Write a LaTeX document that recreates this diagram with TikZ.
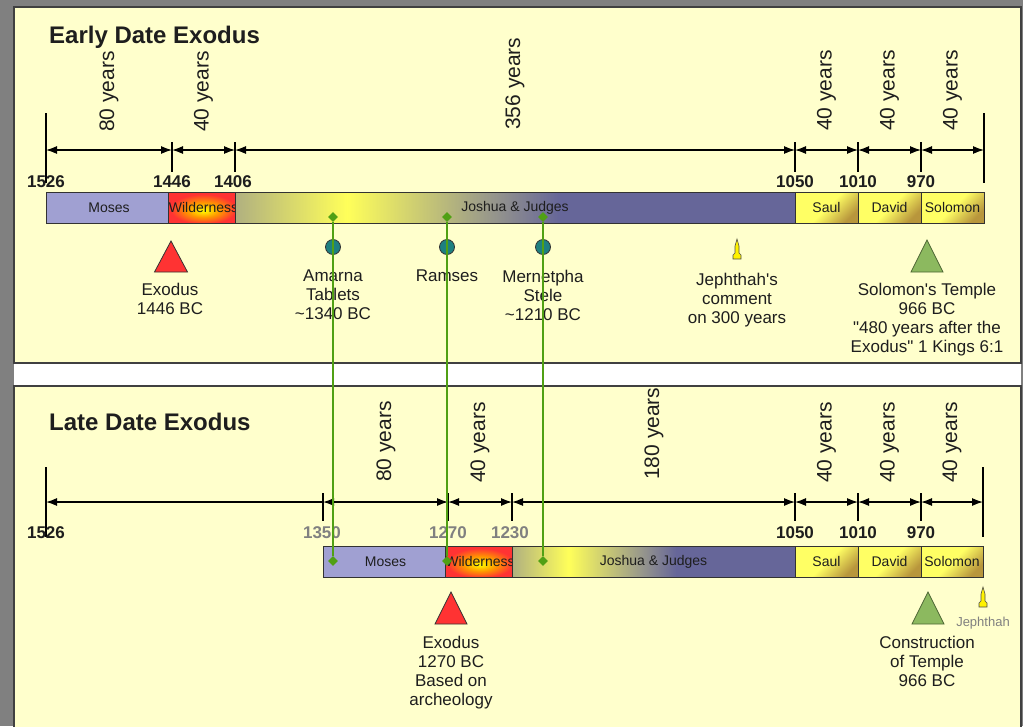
\documentclass[tikz,border=0pt]{standalone}
\usepackage{fontspec}
\setmainfont{Liberation Sans}[Ligatures=TeXOff]
\usetikzlibrary{arrows.meta,shapes.geometric}

\definecolor{bggray}{RGB}{128,128,128}
\definecolor{paper}{RGB}{255,255,204}
\definecolor{ink}{RGB}{30,30,30}
\definecolor{yeargray}{RGB}{128,128,128}
\definecolor{barline}{RGB}{50,50,50}
\definecolor{moses}{RGB}{160,160,210}
\definecolor{jjolive}{RGB}{176,176,128}
\definecolor{jjyellow}{RGB}{255,255,90}
\definecolor{jjgray}{RGB}{150,150,140}
\definecolor{jjblue}{RGB}{102,102,153}
\definecolor{kingyel}{RGB}{255,255,100}
\definecolor{kinggold}{RGB}{184,150,60}
\definecolor{exred}{RGB}{255,51,51}
\definecolor{wildorange}{RGB}{255,150,0}
\definecolor{temgreen}{RGB}{140,185,95}
\definecolor{markteal}{RGB}{30,128,128}
\definecolor{linkgreen}{RGB}{80,160,20}

\pgfdeclarehorizontalshading{joshuashade}{100bp}{color(0bp)=(jjolive); color(25bp)=(jjolive); color(35bp)=(jjyellow); color(48bp)=(jjgray); color(54bp)=(jjblue); color(100bp)=(jjblue)}
\pgfdeclareradialshading{wildshade}{\pgfpoint{0bp}{-5bp}}{color(0bp)=(yellow); color(12bp)=(wildorange); color(24bp)=(exred); color(50bp)=(exred)}

\tikzset{every node/.style={inner sep=0pt, text=ink},
  panel/.style={draw=black!75, line width=1.5pt, fill=paper},
  heading/.style={anchor=base west, font=\bfseries\fontsize{24}{24}\selectfont},
  yeartick/.style={black, line width=1.2pt},
  dimarrow/.style={black, line width=1.2pt, {Latex[length=11pt,width=8pt]}-{Latex[length=11pt,width=8pt]}},
  dimleft/.style={black, line width=1.2pt, {Latex[length=11pt,width=8pt]}-},
  span/.style={rotate=90, anchor=west, font=\fontsize{21}{21}\selectfont},
  yearlbl/.style={anchor=base, font=\bfseries\fontsize{17}{17}\selectfont},
  oldyear/.style={yearlbl, text=yeargray},
  seg/.style={draw=barline, line width=1pt, rectangle, minimum height=31pt, outer sep=0pt, font=\fontsize{14}{14}\selectfont},
  king/.style={seg, top color=kingyel, bottom color=kinggold, middle color=kingyel, shading angle=45},
  find/.style={circle, draw=black!80, fill=markteal, line width=0.8pt, minimum size=15pt},
  note/.style={anchor=north, align=center, font=\fontsize{17}{19}\selectfont},
  extri/.style={draw=black!80, fill=exred, line width=0.8pt},
  temtri/.style={draw=temgreen!55!black, fill=temgreen, line width=0.8pt},
  jeph/.style={draw=black!70, fill=yellow, line width=0.6pt},
  pinmark/.style={diamond, fill=linkgreen, minimum size=10pt},
  link/.style={draw=linkgreen, line width=1.3pt}}

\begin{document}
\begin{tikzpicture}[x=1pt,y=-1pt]
  \useasboundingbox (0,0) rectangle (1023,726);
  \fill[bggray] (0,0) rectangle (1023,726);
  \fill[white] (14,7) rectangle (1021,726);

  % early date
  \draw[panel] (14,7) rectangle (1021,363);
  \node[heading] (early) at (49,43) {Early Date Exodus};

  \coordinate (a1526) at (46,150);
  \coordinate (a1446) at (172,150);
  \coordinate (a1406) at (235,150);
  \coordinate (a1050) at (795,150);
  \coordinate (a1010) at (858,150);
  \coordinate (a970) at (921,150);
  \coordinate (aend) at (984,150);
  \draw[yeartick] (a1526) ++(0,-37) -- ++(0,70);
  \draw[yeartick] (aend) ++(0,-37) -- ++(0,70);
  \draw[yeartick] (a1446) ++(0,-8) -- ++(0,30);
  \draw[yeartick] (a1406) ++(0,-8) -- ++(0,30);
  \draw[yeartick] (a1050) ++(0,-8) -- ++(0,30);
  \draw[yeartick] (a1010) ++(0,-8) -- ++(0,30);
  \draw[yeartick] (a970) ++(0,-8) -- ++(0,30);
  \draw[dimarrow] (a1526) -- (a1446);
  \draw[dimarrow] (a1446) -- (a1406);
  \draw[dimarrow] (a1406) -- (a1050);
  \draw[dimarrow] (a1050) -- (a1010);
  \draw[dimarrow] (a1010) -- (a970);
  \draw[dimarrow] (a970) -- (aend);

  \node[span] (sa80) at (109,132) {80 years};
  \node[span] (sa40) at (203.5,132) {40 years};
  \node[span] (sa356) at (515,130) {356 years};
  \node[span] (sasaul) at (826.5,131) {40 years};
  \node[span] (sadavid) at (889.5,131) {40 years};
  \node[span] (sasolomon) at (952.5,131) {40 years};

  \node[yearlbl] (la1526) at (46,187) {1526};
  \node[yearlbl] (la1446) at (172,187) {1446};
  \node[yearlbl] (la1406) at (233,187) {1406};
  \node[yearlbl] (la1050) at (795,187) {1050};
  \node[yearlbl] (la1010) at (858,187) {1010};
  \node[yearlbl] (la970) at (921,187) {970};

  \node[seg, fill=moses, minimum width=126pt] (moses1) at (109,207.5) {Moses};
  \node[seg, shade, shading=wildshade, minimum width=63pt] (wild1) at (203.5,207.5) {Wilderness};
  \node[seg, shade, shading=joshuashade, minimum width=560pt] (judges1) at (515,207.5) {Joshua \& Judges};
  \node[king, minimum width=63pt] (saul1) at (826.5,207.5) {Saul};
  \node[king, minimum width=63pt] (david1) at (889.5,207.5) {David};
  \node[king, minimum width=63pt] (solomon1) at (952.5,207.5) {Solomon};

  \draw[extri] (171,241) -- ++(16.5,31) -- ++(-33,0) -- cycle;
  \node[note] (exodus1) at (170,283) {Exodus\\1446 BC};
  \node[find] (amarna) at (333,247) {};
  \node[note] (amarnatxt) at (333,270) {Amarna\\Tablets\\\textasciitilde1340 BC};
  \node[find] (ramses) at (447,247) {};
  \node[note] (ramsestxt) at (447,270) {Ramses};
  \node[find] (stele) at (543,247) {};
  \node[note] (steletxt) at (543,270) {Mernetpha\\Stele\\\textasciitilde1210 BC};
  \draw[jeph] (737,239) -- ++(2,7) -- ++(0,7) -- ++(2,2) -- ++(0,4) -- ++(-8,0) -- ++(0,-4) -- ++(2,-2) -- ++(0,-7) -- cycle;
  \node[note] (jephtxt1) at (737,273) {Jephthah's\\comment\\on 300 years};
  \draw[temtri] (927,240) -- ++(16,32) -- ++(-32,0) -- cycle;
  \node[note] (temple1) at (927,283) {Solomon's Temple\\966 BC\\"480 years after the\\Exodus" 1 Kings 6:1};

  % late date
  \draw[panel] (14,386) rectangle (1021,740);
  \node[heading] (late) at (49,430) {Late Date Exodus};

  \coordinate (b1526) at (46,502);
  \coordinate (b1350) at (323,502);
  \coordinate (b1270) at (448,502);
  \coordinate (b1230) at (512,502);
  \coordinate (b1050) at (795,502);
  \coordinate (b1010) at (858,502);
  \coordinate (b970) at (921,502);
  \coordinate (bend) at (983,502);
  \draw[yeartick] (b1526) ++(0,-35) -- ++(0,70);
  \draw[yeartick] (bend) ++(0,-35) -- ++(0,70);
  \draw[yeartick] (b1350) ++(0,-9) -- ++(0,28);
  \draw[yeartick] (b1270) ++(0,-9) -- ++(0,28);
  \draw[yeartick] (b1230) ++(0,-9) -- ++(0,28);
  \draw[yeartick] (b1050) ++(0,-9) -- ++(0,28);
  \draw[yeartick] (b1010) ++(0,-9) -- ++(0,28);
  \draw[yeartick] (b970) ++(0,-9) -- ++(0,28);
  \draw[dimleft] (b1526) -- (b1350);
  \draw[dimarrow] (b1350) -- (b1270);
  \draw[dimarrow] (b1270) -- (b1230);
  \draw[dimarrow] (b1230) -- (b1050);
  \draw[dimarrow] (b1050) -- (b1010);
  \draw[dimarrow] (b1010) -- (b970);
  \draw[dimarrow] (b970) -- (bend);

  \node[span] (sb80) at (386,482) {80 years};
  \node[span] (sb40) at (480,483) {40 years};
  \node[span] (sb180) at (654,480) {180 years};
  \node[span] (sbsaul) at (826.5,483) {40 years};
  \node[span] (sbdavid) at (889.5,483) {40 years};
  \node[span] (sbsolomon) at (952,483) {40 years};

  \node[yearlbl] (lb1526) at (46,538) {1526};
  \node[oldyear] (lb1350) at (322,538) {1350};
  \node[oldyear] (lb1270) at (448,538) {1270};
  \node[oldyear] (lb1230) at (510,538) {1230};
  \node[yearlbl] (lb1050) at (795,538) {1050};
  \node[yearlbl] (lb1010) at (858,538) {1010};
  \node[yearlbl] (lb970) at (921,538) {970};

  \node[seg, fill=moses, minimum width=125pt] (moses2) at (385.5,561.5) {Moses};
  \node[seg, shade, shading=wildshade, minimum width=64pt] (wild2) at (480,561.5) {Wilderness};
  \node[seg, shade, shading=joshuashade, minimum width=283pt] (judges2) at (653.5,561.5) {Joshua \& Judges};
  \node[king, minimum width=63pt] (saul2) at (826.5,561.5) {Saul};
  \node[king, minimum width=63pt] (david2) at (889.5,561.5) {David};
  \node[king, minimum width=62pt] (solomon2) at (952,561.5) {Solomon};

  \draw[extri] (451,592) -- ++(16,32) -- ++(-32,0) -- cycle;
  \node[note] (exodus2) at (451,636) {Exodus\\1270 BC\\Based on\\archeology};
  \draw[temtri] (928,592) -- ++(16,32) -- ++(-32,0) -- cycle;
  \node[note] (temple2) at (927,636) {Construction\\of Temple\\966 BC};
  \draw[jeph] (983,587) -- ++(2,7) -- ++(0,7) -- ++(2,2) -- ++(0,4) -- ++(-8,0) -- ++(0,-4) -- ++(2,-2) -- ++(0,-7) -- cycle;
  \node[note, text=yeargray, font=\fontsize{13}{15}\selectfont] (jephtxt2) at (983,617) {Jephthah};

  % links between the two dates
  \node[pinmark] (amtop) at (333,217) {};
  \node[pinmark] (ratop) at (447,217) {};
  \node[pinmark] (metop) at (543,217) {};
  \node[pinmark] (ambot) at (333,561) {};
  \node[pinmark] (rabot) at (447,561) {};
  \node[pinmark] (mebot) at (543,561) {};
  \draw[link] (amtop) -- (ambot);
  \draw[link] (ratop) -- (rabot);
  \draw[link] (metop) -- (mebot);
\end{tikzpicture}
\end{document}
